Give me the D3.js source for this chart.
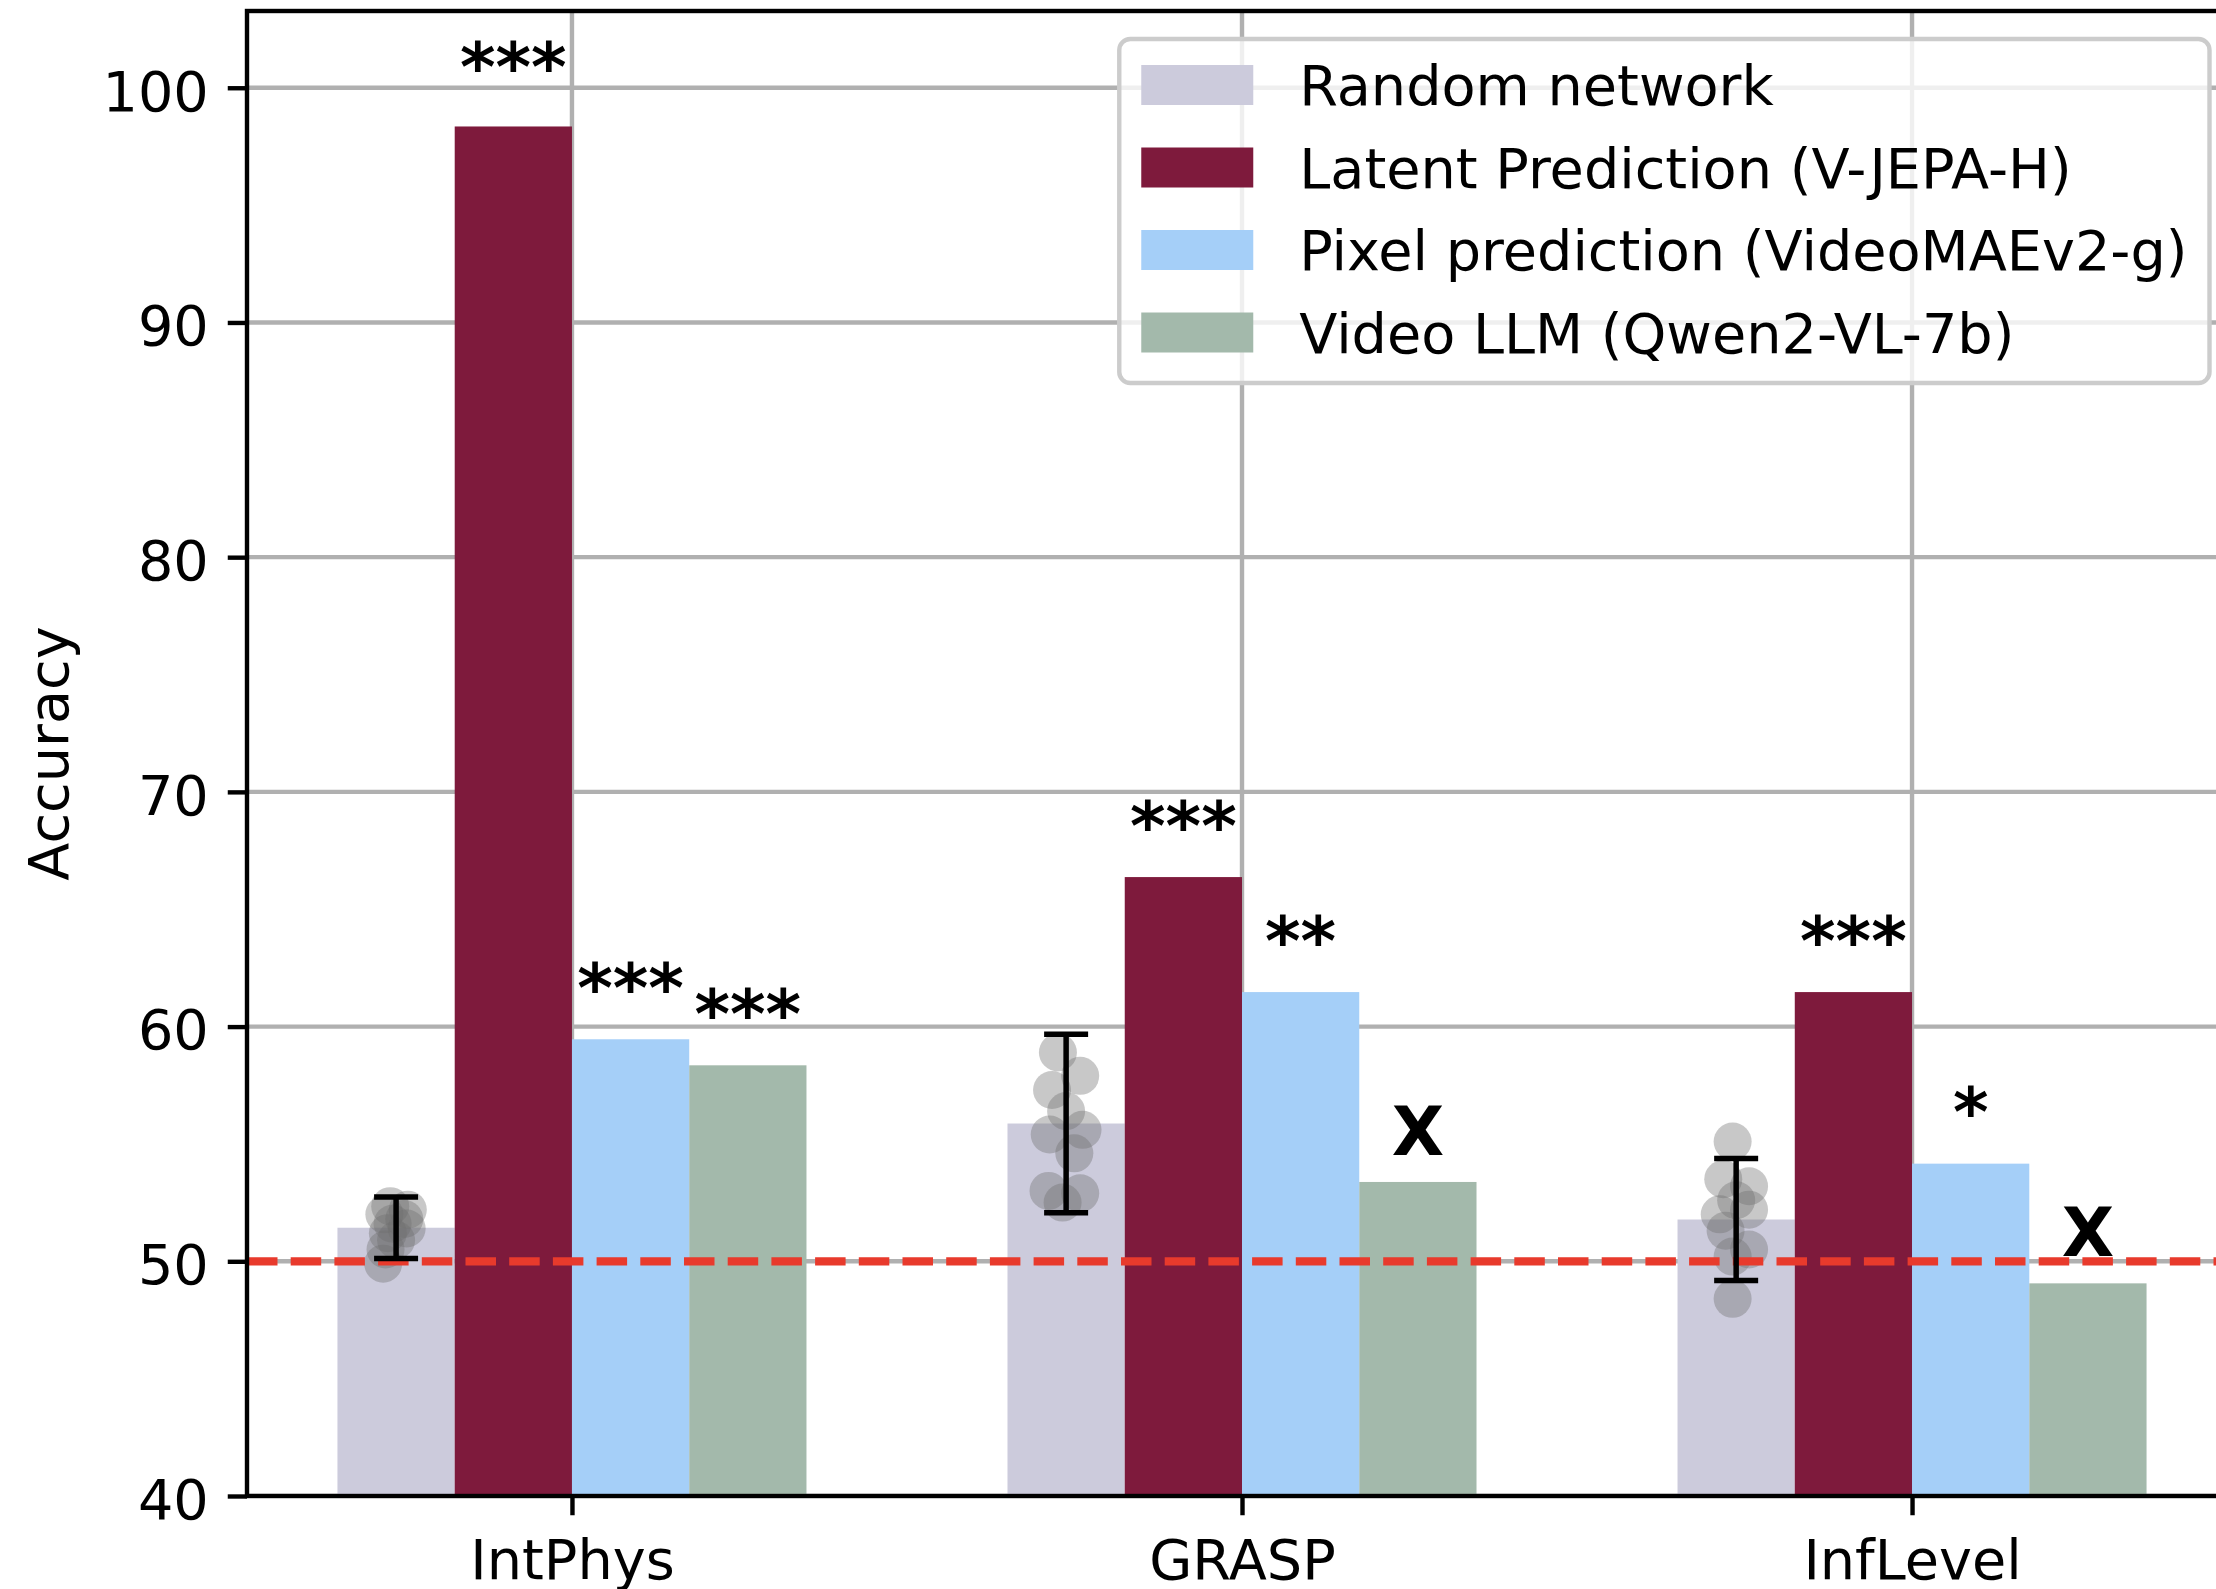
<!DOCTYPE html>
<html>
<head>
<meta charset="utf-8">
<script src="https://cdn.jsdelivr.net/npm/d3@7"></script>
<style>
body { margin: 0; background: #fff; }
text { font-family: "DejaVu Sans", sans-serif; }
</style>
</head>
<body>
<svg id="chart" width="2216" height="1589"></svg>
<script>
// data
var benchmarks = ["IntPhys", "GRASP", "InfLevel"];
var models = ["Random network", "Latent Prediction (V-JEPA-H)", "Pixel prediction (VideoMAEv2-g)", "Video LLM (Qwen2-VL-7b)"];
var modelColors = ["#cccbdc", "#7e1a3c", "#a5cff8", "#a3b9ab"];
var randomAcc = [51.43, 55.87, 51.78];
var randomErr = [1.31, 3.80, 2.60];
var latentAcc = [98.35, 66.37, 61.47];
var pixelAcc = [59.46, 61.47, 54.16];
var llmAcc = [58.35, 53.38, 49.06];
// significance marks for each benchmark
var sigLatent = ["***", "***", "***"];
var sigPixel = ["***", "**", "*"];
var sigLlm = ["***", "X", "X"];
// random-network seeds (accuracy and horizontal spread, in bar widths)
var seedAcc = [
    [52.35, 52.2, 52.0, 51.8, 51.6, 51.4, 51.2, 50.9, 50.5, 49.9],
    [58.9, 57.9, 57.3, 56.4, 55.6, 55.4, 54.6, 53.0, 52.9, 52.5],
    [55.1, 53.5, 53.2, 52.6, 52.0, 52.2, 51.3, 50.5, 50.2, 48.4]
];
var seedJitter = [
    [-0.05, 0.10, -0.10, 0.07, -0.03, 0.09, -0.07, 0.0, -0.09, -0.11],
    [-0.07, 0.12, -0.12, 0.0, 0.14, -0.14, 0.07, -0.15, 0.12, -0.03],
    [-0.03, -0.11, 0.11, 0.0, -0.14, 0.11, -0.09, 0.11, -0.03, -0.03]
];
var yTicks = [40, 50, 60, 70, 80, 90, 100];
var chance = 50;

var series = [randomAcc, latentAcc, pixelAcc, llmAcc];
var sigs = [null, sigLatent, sigPixel, sigLlm];

var axL = 247, axR = 2237, axT = 11, axB = 1496;
var fs = 55.7;        // 10pt
var lw = 4.4;         // 0.8pt
var barW = 0.175;

var svg = d3.select("#chart");
var x = d3.scaleLinear().domain([-0.485, 2.485]).range([axL, axR]);
var y = d3.scaleLinear().domain([40, 103.27]).range([axB, axT]);
var bw = x(barW) - x(0);

svg.append("defs").append("clipPath").attr("id", "clip")
    .append("rect").attr("x", axL).attr("y", axT)
    .attr("width", axR - axL).attr("height", axB - axT);

var plot = svg.append("g").attr("clip-path", "url(#clip)");

// grid
plot.selectAll(".hgrid").data(yTicks).enter().append("line")
    .attr("x1", axL).attr("x2", axR)
    .attr("y1", function (d) { return y(d); }).attr("y2", function (d) { return y(d); })
    .attr("stroke", "#b0b0b0").attr("stroke-width", lw);
plot.selectAll(".vgrid").data(benchmarks).enter().append("line")
    .attr("x1", function (d, i) { return x(i); }).attr("x2", function (d, i) { return x(i); })
    .attr("y1", axT).attr("y2", axB)
    .attr("stroke", "#b0b0b0").attr("stroke-width", lw);

// bars
series.forEach(function (vals, k) {
    var off = (k - 1.5) * barW;
    plot.selectAll(".bar" + k).data(vals).enter().append("rect")
        .attr("x", function (d, i) { return x(i + off) - bw / 2; })
        .attr("width", bw)
        .attr("y", function (d) { return y(d); })
        .attr("height", function (d) { return axB - y(d); })
        .attr("fill", modelColors[k]);
});

// seed scatter
seedAcc.forEach(function (vals, i) {
    plot.selectAll(".seed" + i).data(vals).enter().append("circle")
        .attr("cx", function (d, j) { return x(i - 1.5 * barW + seedJitter[i][j] * barW); })
        .attr("cy", function (d) { return y(d); })
        .attr("r", 19)
        .attr("fill", "#6e6e6e")
        .attr("opacity", 0.38);
});

// chance line
plot.append("line")
    .attr("x1", axL).attr("x2", axR)
    .attr("y1", y(chance)).attr("y2", y(chance))
    .attr("stroke", "#e83a2c").attr("stroke-width", 8.25)
    .attr("stroke-dasharray", "30.5,13.2");

// error bars
randomAcc.forEach(function (d, i) {
    var cx = x(i - 1.5 * barW);
    var g = plot.append("g").attr("stroke", "black").attr("stroke-width", 5.5);
    g.append("line").attr("x1", cx).attr("x2", cx)
        .attr("y1", y(d - randomErr[i])).attr("y2", y(d + randomErr[i]));
    [d - randomErr[i], d + randomErr[i]].forEach(function (v) {
        g.append("line").attr("x1", cx - 22).attr("x2", cx + 22)
            .attr("y1", y(v)).attr("y2", y(v));
    });
});

// significance marks, lifted a little more over the tallest bar
var topVal = d3.max(latentAcc);
series.forEach(function (vals, k) {
    if (!sigs[k]) return;
    var off = (k - 1.5) * barW;
    svg.selectAll(".sig" + k).data(vals).enter().append("text")
        .attr("x", function (d, i) { return x(i + off); })
        .attr("y", function (d) { return y(d + (d === topVal ? 0.85 : 0.5)) - 15.6; })
        .attr("text-anchor", "middle")
        .attr("font-size", 68)
        .attr("font-weight", "bold")
        .text(function (d, i) { return sigs[k][i]; });
});

// axes
var yAxis = svg.append("g").attr("transform", "translate(" + axL + ",0)")
    .call(d3.axisLeft(y).tickValues(yTicks).tickSize(19.25).tickPadding(19));
yAxis.select(".domain").remove();
yAxis.selectAll("line").attr("stroke-width", lw);
yAxis.selectAll("text").attr("font-size", fs).attr("dy", "0.4em")
    .attr("font-family", "DejaVu Sans").attr("fill", "black");

var xAxis = svg.append("g").attr("transform", "translate(0," + axB + ")")
    .call(d3.axisBottom(x).tickValues([0, 1, 2]).tickFormat(function (d) { return benchmarks[d]; })
        .tickSize(19.25).tickPadding(19));
xAxis.select(".domain").remove();
xAxis.selectAll("line").attr("stroke-width", lw);
xAxis.selectAll("text").attr("font-size", fs).attr("dy", "0.8em")
    .attr("font-family", "DejaVu Sans").attr("fill", "black");

// spines
svg.append("rect").attr("x", axL).attr("y", axT)
    .attr("width", axR - axL).attr("height", axB - axT)
    .attr("fill", "none").attr("stroke", "black").attr("stroke-width", lw);

svg.append("text")
    .attr("transform", "translate(68," + ((axT + axB) / 2) + ") rotate(-90)")
    .attr("text-anchor", "middle").attr("font-size", fs)
    .text("Accuracy");

// legend
var legend = svg.append("g");
var legBox = legend.append("rect");
var items = legend.selectAll(".item").data(models).enter().append("g");
var labels = items.append("text")
    .attr("font-size", fs)
    .attr("y", function (d, i) { return 85 + i * 82.5 + 20; })
    .text(function (d) { return d; });
var maxW = 0;
labels.each(function () { maxW = Math.max(maxW, this.getComputedTextLength()); });
var legRight = axR - 27.5;
var legW = 22 + 112 + 46 + maxW + 22;
var legLeft = legRight - legW;
labels.attr("x", legLeft + 22 + 112 + 46);
items.append("rect")
    .attr("x", legLeft + 22)
    .attr("y", function (d, i) { return 85 + i * 82.5 - 20; })
    .attr("width", 112).attr("height", 40)
    .attr("fill", function (d, i) { return modelColors[i]; });
legBox.attr("x", legLeft).attr("y", 39).attr("width", legW).attr("height", 344)
    .attr("rx", 11).attr("ry", 11)
    .attr("fill", "white").attr("fill-opacity", 0.8)
    .attr("stroke", "#cccccc").attr("stroke-width", lw);
</script>
</body>
</html>
